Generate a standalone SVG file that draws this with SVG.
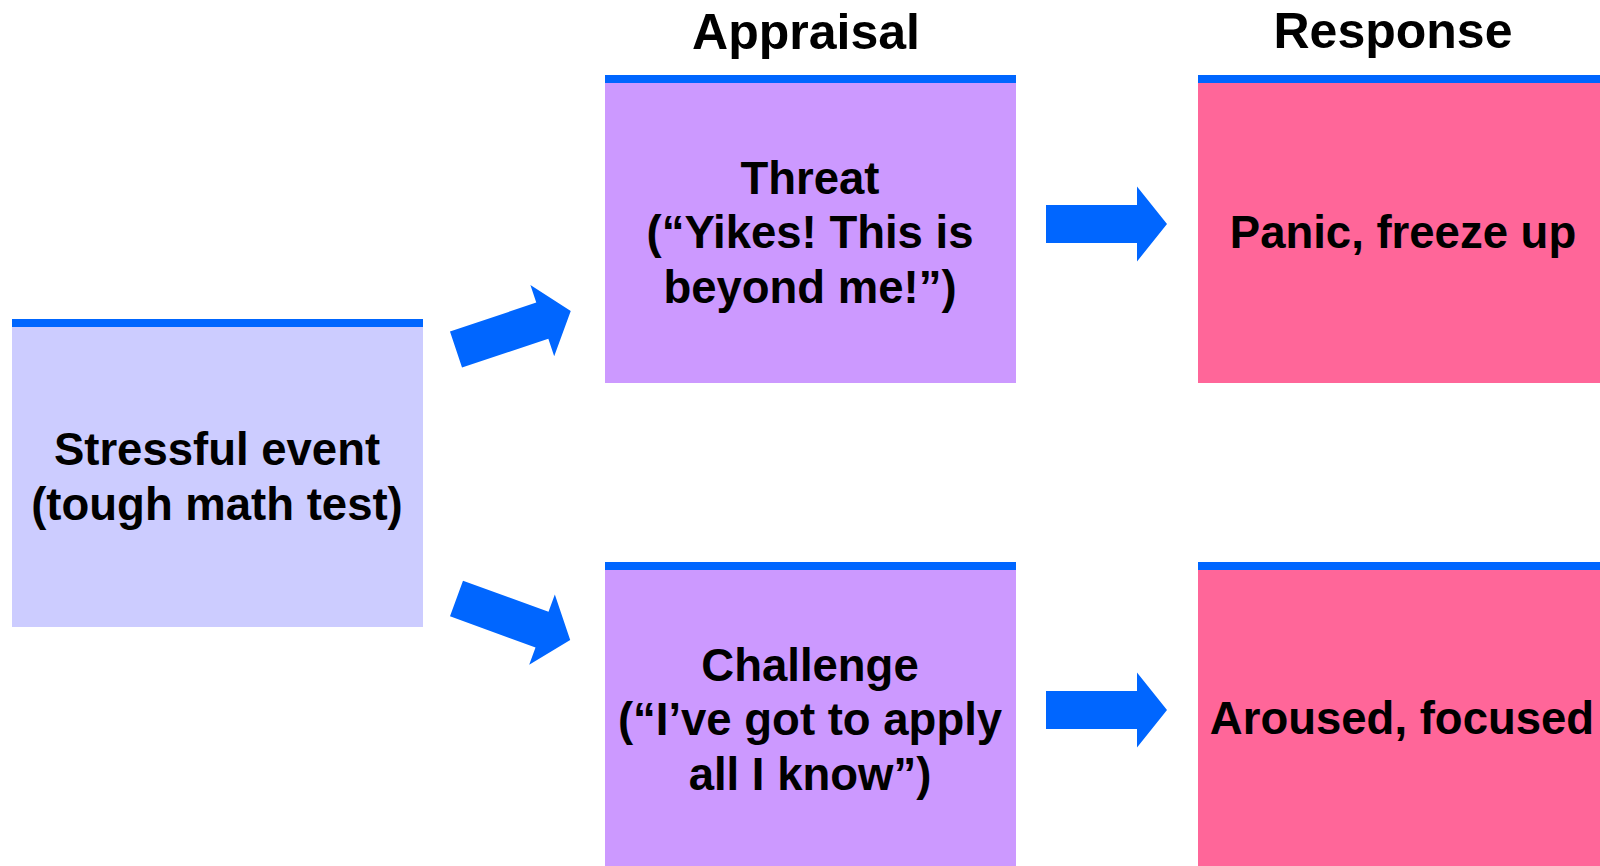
<svg xmlns="http://www.w3.org/2000/svg" xmlns:xlink="http://www.w3.org/1999/xlink" width="1600" height="866" viewBox="0 0 1600 866">
<style>
.bar{fill:#0066FF}
.t{font-family:"Liberation Sans",Arial,sans-serif;font-weight:bold;font-size:45.5px;fill:#000;text-anchor:middle}
.h{font-family:"Liberation Sans",Arial,sans-serif;font-weight:bold;font-size:50px;fill:#000;text-anchor:middle}
.arr{fill:#0066FF}
</style>
<defs>
<path id="arrow" d="M0,-19 L91,-19 L91,-37.5 L121,0 L91,37.5 L91,19 L0,19 Z"/>
</defs>
<rect width="1600" height="866" fill="#fff"/>
<g id="headers">
<text class="h" x="806" y="49">Appraisal</text>
<text class="h" x="1393" y="48">Response</text>
</g>
<g id="stressful-event">
<rect x="12" y="327" width="411" height="300" fill="#CCCCFF"/>
<rect class="bar" x="12" y="319" width="411" height="8"/>
<text class="t" x="217" y="465">Stressful event</text>
<text class="t" x="217" y="520">(tough math test)</text>
</g>
<g id="threat">
<rect x="605" y="83" width="411" height="300" fill="#CC99FF"/>
<rect class="bar" x="605" y="75" width="411" height="8"/>
<text class="t" x="810" y="194">Threat</text>
<text class="t" x="810" y="248">(“Yikes! This is</text>
<text class="t" x="810" y="303">beyond me!”)</text>
</g>
<g id="challenge">
<rect x="605" y="570" width="411" height="300" fill="#CC99FF"/>
<rect class="bar" x="605" y="562" width="411" height="8"/>
<text class="t" x="810" y="681">Challenge</text>
<text class="t" x="810" y="735">(“I’ve got to apply</text>
<text class="t" x="810" y="790">all I know”)</text>
</g>
<g id="panic">
<rect x="1198" y="83" width="411" height="300" fill="#FF6699"/>
<rect class="bar" x="1198" y="75" width="411" height="8"/>
<text class="t" x="1403" y="248">Panic, freeze up</text>
</g>
<g id="aroused">
<rect x="1198" y="570" width="411" height="300" fill="#FF6699"/>
<rect class="bar" x="1198" y="562" width="411" height="8"/>
<text class="t" x="1402" y="734">Aroused, focused</text>
</g>
<g id="connectors" class="arr">
<use xlink:href="#arrow" href="#arrow" transform="translate(456,349.5) rotate(-18.5)"/>
<use xlink:href="#arrow" href="#arrow" transform="translate(456.5,598.5) rotate(20)"/>
<use xlink:href="#arrow" href="#arrow" transform="translate(1046,224)"/>
<use xlink:href="#arrow" href="#arrow" transform="translate(1046,710)"/>
</g>
</svg>
